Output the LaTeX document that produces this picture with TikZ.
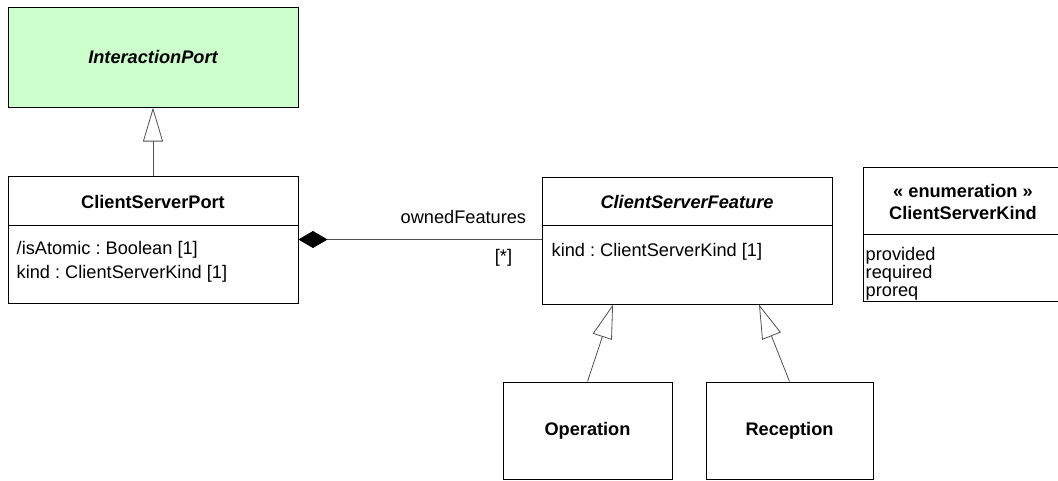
\documentclass[tikz,border=0pt]{standalone}
\usepackage{fontspec}
\setmainfont{Liberation Sans}
\usetikzlibrary{arrows.meta,positioning,calc}
\definecolor{mint}{HTML}{CCFFCC}
\definecolor{wire}{HTML}{505050}
\frenchspacing

\begin{document}
\begin{tikzpicture}[x=1pt,y=-1pt,
  font=\fontsize{18.2}{24}\selectfont,
  cls/.style={draw=black,line width=1pt,fill=white,inner sep=0pt},
  title/.style={font=\fontsize{18.2}{24}\selectfont\bfseries},
  abstract/.style={font=\fontsize{18.2}{24}\selectfont\bfseries\itshape},
  attrs/.style={align=left,inner sep=0pt,anchor=west},
  sep/.style={line width=1pt},
  gen/.style={-{Triangle[open,length=34pt,width=20pt,fill=white]},line width=0.8pt,draw=wire},
  comp/.style={{Diamond[length=29pt,width=17pt,color=black]}-,line width=0.8pt,draw=wire}]
\useasboundingbox (0,0) rectangle (1058,480);
\clip (0,0) rectangle (1058,480);

% classes
\node[cls,fill=mint,abstract,minimum width=290pt,minimum height=100pt] (ip) at (153,57) {InteractionPort};

\node[cls,minimum width=290pt,minimum height=127pt] (csp) at (153,239.5) {};
\node[title] (cspName) at ([yshift=-26pt]csp.north) {ClientServerPort};
\draw[sep] ([yshift=-50pt]csp.north west) -- ([yshift=-50pt]csp.north east);
\node[attrs] (cspAttr) at ([xshift=9pt,yshift=-86pt]csp.north west) {/isAtomic : Boolean [1]\\kind : ClientServerKind [1]};

\node[cls,minimum width=290pt,minimum height=127pt] (csf) at (687,240.5) {};
\node[abstract] (csfName) at ([yshift=-25pt]csf.north) {ClientServerFeature};
\draw[sep] ([yshift=-49pt]csf.north west) -- ([yshift=-49pt]csf.north east);
\node[attrs] (csfAttr) at ([xshift=10pt,yshift=-75pt]csf.north west) {kind : ClientServerKind [1]};

\node[cls,minimum width=200pt,minimum height=134pt] (enum) at (963,234) {};
\node[title] (enumSt) at ([yshift=-24pt]enum.north) {« enumeration »};
\node[title] (enumName) at ([yshift=-46pt]enum.north) {ClientServerKind};
\draw[sep] ([yshift=-68pt]enum.north west) -- ([yshift=-68pt]enum.north east);
\node[attrs,font=\fontsize{18.2}{18}\selectfont] (enumLit) at ([xshift=3pt,yshift=-107pt]enum.north west) {provided\\required\\proreq};

\node[cls,title,minimum width=169pt,minimum height=97pt] (op) at (587.5,430.5) {Operation};
\node[cls,title,minimum width=167pt,minimum height=97pt] (rec) at (789.5,430.5) {Reception};

% relations
\draw[gen] (csp.north) -- (ip.south);
\draw[gen] (op.north) -- ([xshift=-74pt]csf.south);
\draw[gen] (rec.north) -- ([xshift=72pt]csf.south);
\draw[comp] (csp.east) -- (csp.east -| csf.west)
  node (role) [pos=1,anchor=south east,inner sep=0pt,xshift=-15pt,yshift=15pt] {ownedFeatures}
  node (mult) [pos=1,anchor=north east,inner sep=0pt,xshift=-29pt,yshift=-9pt] {[*]};
\end{tikzpicture}
\end{document}
